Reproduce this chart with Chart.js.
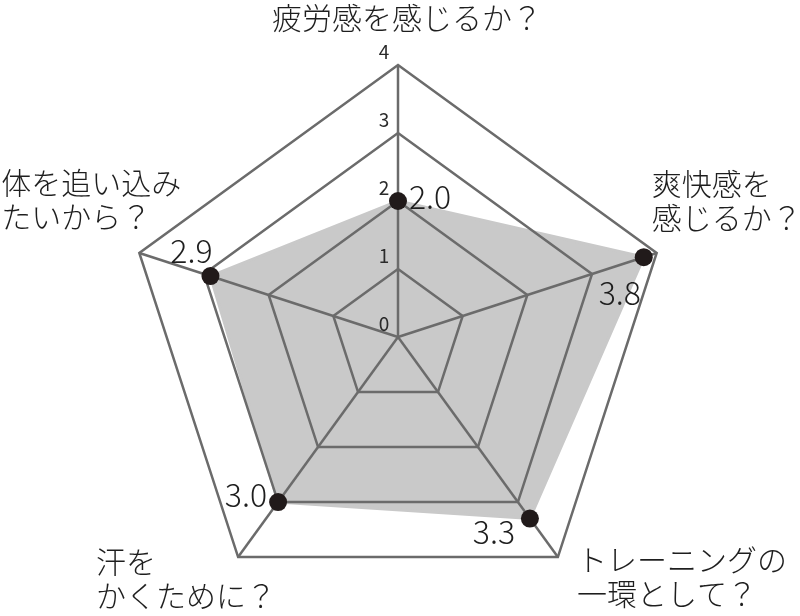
<!DOCTYPE html>
<html>
<head>
<meta charset="utf-8">
<script src="https://cdn.jsdelivr.net/npm/chart.js@4"></script>
<style>
  html, body { margin: 0; padding: 0; background: #fff; }
  #wrap { width: 800px; height: 616px; }
</style>
</head>
<body>
<div id="wrap"><canvas id="myChart"></canvas></div>
<script>
// donnees du graphique
const categories = [
  ["疲労感を感じるか？"],
  ["爽快感を", "感じるか？"],
  ["トレーニングの", "一環として？"],
  ["汗を", "かくために？"],
  ["体を追い込み", "たいから？"]
];
const valeurs = [2.0, 3.8, 3.3, 3.0, 2.9];
const ticksLabels = ["0", "1", "2", "3", "4"];

const police = "'Noto Sans CJK JP', 'Noto Sans', sans-serif";
const gris = "#6b6b6b";

// decalage des libelles par rapport au sommet exterieur
const decalCat = [
  { dx: 9, dy: -47, align: "center" },
  { dx: -5, dy: -69, align: "left" },
  { dx: 19, dy: 3, align: "left" },
  { dx: -142, dy: 5, align: "left" },
  { dx: -138, dy: -70, align: "left" }
];
// decalage des valeurs par rapport au point
const decalVal = [
  { dx: 11, dy: -4, align: "left" },
  { dx: -24, dy: 36, align: "center" },
  { dx: -36, dy: 13, align: "center" },
  { dx: -11, dy: -7, align: "right" },
  { dx: -19, dy: -25, align: "center" }
];

const textes = {
  id: "textes",
  afterDraw(chart) {
    const ctx = chart.ctx;
    const r = chart.scales.r;
    ctx.save();
    ctx.textBaseline = "middle";
    ctx.fillStyle = "#2a2a2a";

    // graduations
    ctx.font = "19px " + police;
    ctx.textAlign = "center";
    ticksLabels.forEach((t) => {
      const d = r.getDistanceFromCenterForValue(Number(t));
      ctx.fillText(t, r.xCenter - 14, r.yCenter - d - 13);
    });

    // points noirs
    const meta = chart.getDatasetMeta(0);
    ctx.fillStyle = "#211a1a";
    meta.data.forEach((p) => {
      ctx.beginPath();
      ctx.arc(p.x, p.y, 9, 0, Math.PI * 2);
      ctx.fill();
    });

    // valeurs
    ctx.fillStyle = "#1e1e1e";
    ctx.font = "300 32px " + police;
    meta.data.forEach((p, i) => {
      const o = decalVal[i];
      ctx.textAlign = o.align;
      ctx.fillText(valeurs[i].toFixed(1), p.x + o.dx, p.y + o.dy);
    });

    // libelles des axes
    ctx.font = "300 30px " + police;
    categories.forEach((lignes, i) => {
      const pos = r.getPointPosition(i, r.drawingArea);
      const o = decalCat[i];
      ctx.textAlign = o.align;
      lignes.forEach((l, j) => {
        ctx.fillText(l, pos.x + o.dx, pos.y + o.dy + j * 34);
      });
    });
    ctx.restore();
  }
};

const data = {
  labels: categories,
  datasets: [
    {
      data: valeurs,
      backgroundColor: "#c9c9c9",
      borderColor: "#c9c9c9",
      borderWidth: 3,
      fill: true,
      pointRadius: 0
    }
  ]
};

const config = {
  type: "radar",
  data: data,
  options: {
    responsive: true,
    maintainAspectRatio: false,
    animation: false,
    layout: {
      padding: { top: 65, bottom: 7, left: 126, right: 130 }
    },
    plugins: {
      legend: false,
      tooltip: { enabled: false }
    },
    scales: {
      r: {
        min: 0,
        max: 4,
        ticks: { display: false, stepSize: 1 },
        pointLabels: { display: false },
        // grille dessinee au dessus de la surface grise
        grid: { color: gris, lineWidth: 2.5, z: 1 },
        angleLines: { color: gris, lineWidth: 2.5 }
      }
    }
  },
  plugins: [textes]
};

let context = document.getElementById("myChart").getContext("2d");
let chart = new Chart(context, config);
</script>
</body>
</html>
